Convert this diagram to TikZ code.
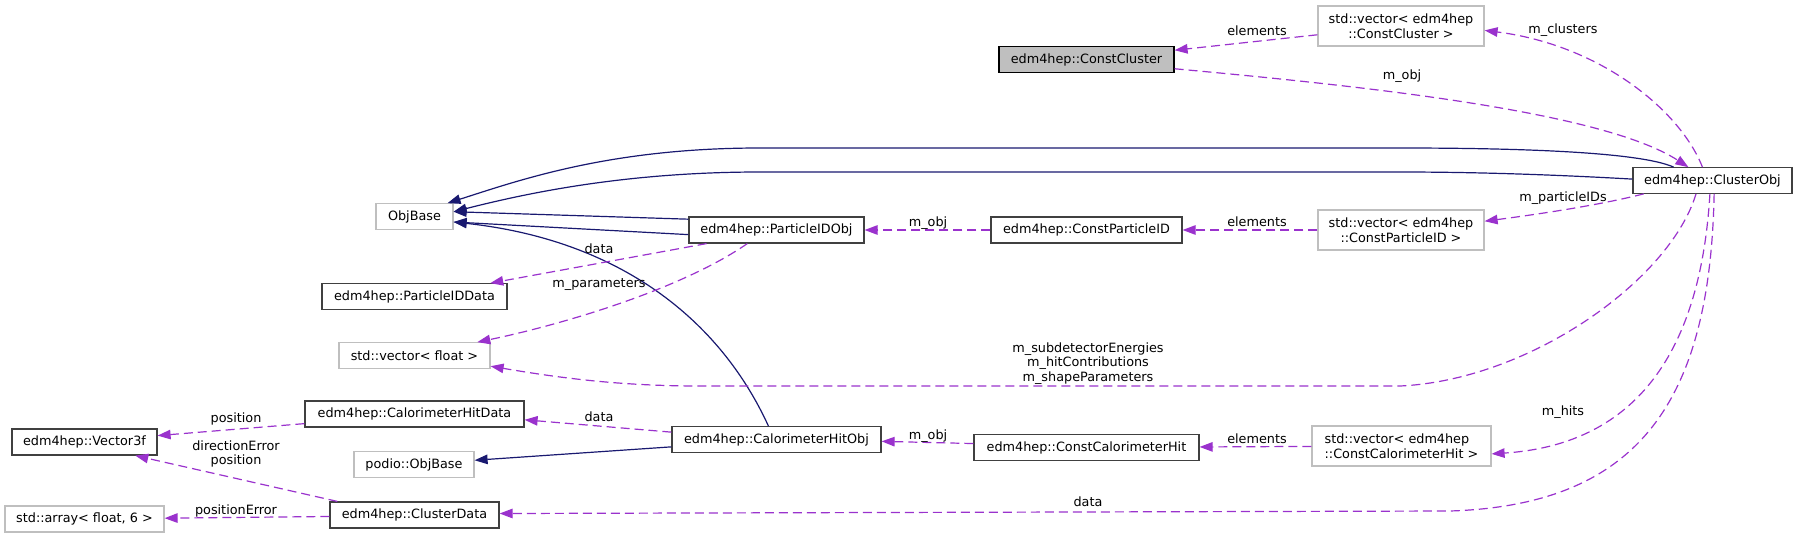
\documentclass[tikz,border=0pt]{standalone}
\usepackage{fontspec}
\setmainfont{DejaVu Sans}
\definecolor{inheritline}{HTML}{191970}
\definecolor{usageline}{HTML}{9A32CD}
\definecolor{nodeedge}{HTML}{404040}
\definecolor{ghostedge}{HTML}{BFBFBF}
\definecolor{rootfill}{HTML}{BFBFBF}
\newcommand{\dxfont}{\fontsize{12.8}{14.5}\selectfont}
\usetikzlibrary{arrows.meta, positioning}

\begin{document}
\begin{tikzpicture}[
        x=1pt, y=-1pt,
        box/.style={draw=nodeedge, line width=1.2pt, fill=white, font=\dxfont,
                    inner xsep=4pt, inner ysep=0pt, minimum height=25.5pt, align=center},
        ghost/.style={box, draw=ghostedge},
        inherit/.style={draw=inheritline, line width=1.2pt, -{Triangle[length=13pt,width=9.5pt]}},
        usage/.style={draw=usageline, line width=1.2pt, dash pattern=on 9pt off 5pt,
                      -{Triangle[length=13pt,width=9.5pt]}},
        lbl/.style={font=\dxfont, inner sep=0pt, anchor=base}
    ]
        \useasboundingbox (0,0) rectangle (1797,538);

        % Classes
        \node[box, fill=rootfill, draw=black, minimum width=175pt] (cconst) at (1086.5,59.5) {edm4hep::ConstCluster};
        \node[ghost, minimum width=166pt, minimum height=40pt] (cvec) at (1401,26) {std::vector< edm4hep\\::ConstCluster >};
        \node[box, minimum width=159pt] (cobj) at (1712.5,180.5) {edm4hep::ClusterObj};
        \node[ghost, minimum width=77pt] (objbase) at (414.5,216.5) {ObjBase};
        \node[box, minimum width=175pt, minimum height=26pt] (pidobj) at (776.5,230) {edm4hep::ParticleIDObj};
        \node[box, minimum width=191pt, minimum height=26pt] (pidconst) at (1086.5,230) {edm4hep::ConstParticleID};
        \node[ghost, minimum width=166pt, minimum height=40pt] (pidvec) at (1401,230) {std::vector< edm4hep\\::ConstParticleID >};
        \node[box, minimum width=185pt] (piddata) at (414.5,296.5) {edm4hep::ParticleIDData};
        \node[ghost, minimum width=151pt] (fvec) at (414.5,355.5) {std::vector< float >};
        \node[box, minimum width=145pt, minimum height=26pt] (vec3f) at (84.5,442) {edm4hep::Vector3f};
        \node[box, minimum width=219pt, minimum height=26pt] (hitdata) at (414.5,414) {edm4hep::CalorimeterHitData};
        \node[ghost, minimum width=120pt] (podiobase) at (414,464.5) {podio::ObjBase};
        \node[box, minimum width=209pt] (hitobj) at (776.5,439.5) {edm4hep::CalorimeterHitObj};
        \node[box, minimum width=225pt] (hitconst) at (1086.5,447.5) {edm4hep::ConstCalorimeterHit};
        \node[ghost, minimum width=179pt, minimum height=40pt, align=left] (hitvec) at (1401.5,446) {std::vector< edm4hep\\::ConstCalorimeterHit >};
        \node[ghost, minimum width=159pt, minimum height=26pt] (farray) at (84.5,519) {std::array< float, 6 >};
        \node[box, minimum width=169pt, minimum height=26pt] (cdata) at (414.5,515) {edm4hep::ClusterData};

        % Inheritance
        \draw[inherit] (cobj.161) .. controls (1640,152) and (1520,148) .. (1400,148)
            -- (760,148) .. controls (610,148) and (520,180) .. (objbase.22);
        \draw[inherit] (cobj.179) .. controls (1560,175) and (1480,172) .. (1400,172)
            -- (760,172) .. controls (620,172) and (520,195) .. (objbase.7);
        \draw[inherit] (pidobj.173) -- (objbase.7);
        \draw[inherit] (pidobj.183) -- (objbase.352);
        \draw[inherit] (hitobj.121) .. controls (720,320) and (620,240) .. (objbase.352);
        \draw[inherit] (hitobj.184) -- (podiobase.4);

        % Usage
        \draw[usage] (cvec.186) -- (cconst.6);
        \draw[usage] (cconst.354) .. controls (1350,85) and (1600,110) .. (cobj.151);
        \draw[usage] (cobj.127) .. controls (1680,110) and (1600,45) .. (cvec.357);
        \draw[usage] (cobj.191) .. controls (1600,205) and (1540,214) .. (pidvec.6);
        \draw[usage] (pidvec) -- (pidconst);
        \draw[usage] (pidconst) -- (pidobj);
        \draw[usage] (pidobj.191) -- (piddata.10);
        \draw[usage] (pidobj.205) .. controls (680,290) and (560,325) .. (fvec.12);
        \draw[usage] (cobj.219) .. controls (1670,280) and (1530,380) .. (1400,386)
            -- (700,386) .. controls (620,386) and (560,378) .. (fvec.352);
        \draw[usage] (cobj.259) .. controls (1700,360) and (1630,445) .. (hitvec.355);
        \draw[usage] (hitvec) -- (hitconst);
        \draw[usage] (hitconst.178) -- (hitobj.359);
        \draw[usage] (hitobj.176) -- (hitdata.357);
        \draw[usage] (cobj.277) .. controls (1710,400) and (1640,505) .. (1450,511) -- (cdata.1);
        \draw[usage] (cdata.170) -- (vec3f.345);
        \draw[usage] (hitdata.185) -- (vec3f.5);
        \draw[usage] (cdata.181) -- (farray);

        % Edge labels
        \node[lbl] (lbElemC) at (1257,35) {elements};
        \node[lbl] (lbObjC) at (1402,79) {m\_obj};
        \node[lbl] (lbClusters) at (1563,33) {m\_clusters};
        \node[lbl] (lbPids) at (1563,201) {m\_particleIDs};
        \node[lbl] (lbElemP) at (1257,226) {elements};
        \node[lbl] (lbObjP) at (928,226) {m\_obj};
        \node[lbl] (lbDataP) at (599,253) {data};
        \node[lbl] (lbParams) at (599,287) {m\_parameters};
        \node[lbl, anchor=center, align=center] (lbVecs) at (1088,363.5)
            {m\_subdetectorEnergies\\m\_hitContributions\\m\_shapeParameters};
        \node[lbl] (lbHits) at (1563,415) {m\_hits};
        \node[lbl] (lbElemH) at (1257,443) {elements};
        \node[lbl] (lbObjH) at (928,439) {m\_obj};
        \node[lbl] (lbDataH) at (599,421) {data};
        \node[lbl] (lbPos) at (236,422) {position};
        \node[lbl, anchor=center, align=center] (lbDirPos) at (236,454) {directionError\\position};
        \node[lbl] (lbPosErr) at (236,514) {positionError};
        \node[lbl] (lbDataC) at (1088,506) {data};
    \end{tikzpicture}
\end{document}
